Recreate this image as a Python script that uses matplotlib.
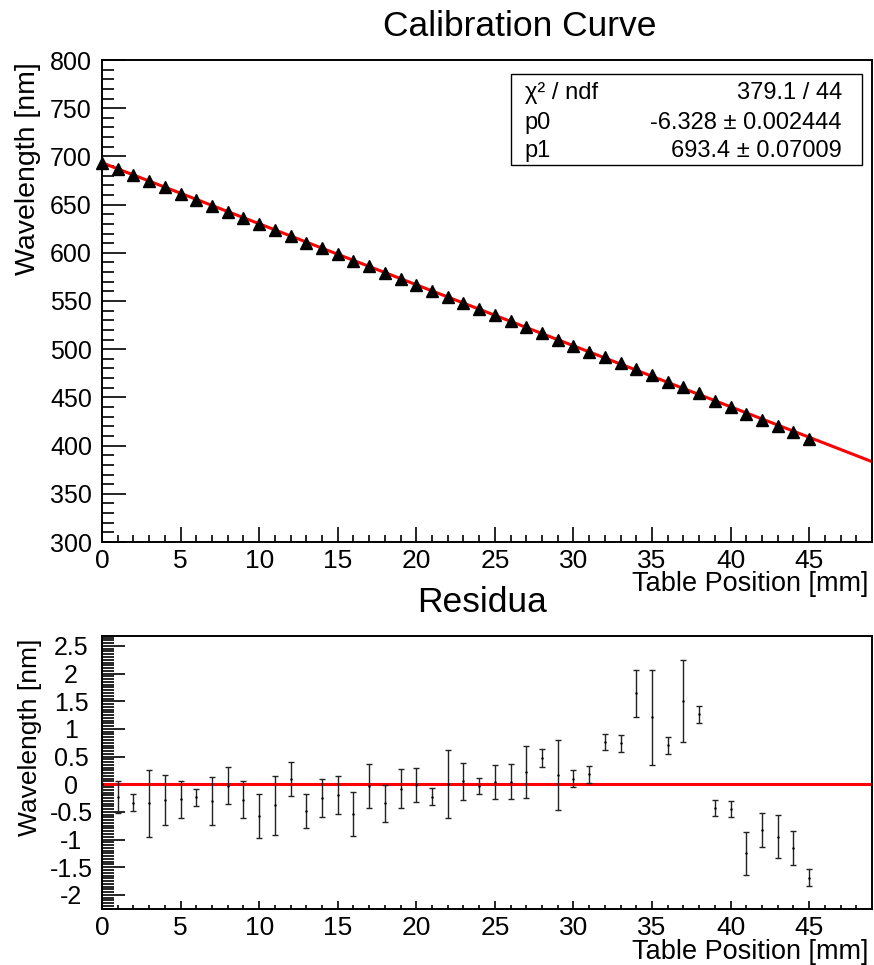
"""
Calibration curve (wavelength vs table position) with linear fit and residuals.
"""
import numpy as np
import matplotlib
matplotlib.use("Agg")
import matplotlib.pyplot as plt
from matplotlib.ticker import MultipleLocator, FuncFormatter
from matplotlib.patches import Rectangle

plt.rcParams["font.family"] = ["Liberation Sans", "DejaVu Sans"]
plt.rcParams["axes.unicode_minus"] = False

# measured points
position = np.arange(0, 46)
wavelength = [693.40, 686.84, 680.41, 674.07, 667.81, 661.49, 655.20, 648.80,
              642.75, 636.17, 629.55, 623.41, 617.56, 610.65, 604.56, 598.29,
              591.62, 585.79, 579.15, 573.09, 566.82, 560.29, 554.19, 547.91,
              541.50, 535.24, 528.92, 522.76, 516.69, 510.06, 503.66, 497.41,
              491.67, 485.32, 479.89, 473.13, 466.30, 460.77, 454.20, 446.18,
              439.83, 432.70, 426.80, 420.35, 413.82, 406.95]
wl_error = [0.16, 0.29, 0.155, 0.605, 0.45, 0.335, 0.155, 0.435, 0.34, 0.34,
            0.40, 0.53, 0.30, 0.305, 0.345, 0.34, 0.40, 0.40, 0.33, 0.345,
            0.305, 0.15, 0.615, 0.335, 0.145, 0.31, 0.31, 0.47, 0.155, 0.635,
            0.15, 0.15, 0.15, 0.155, 0.43, 0.855, 0.155, 0.745, 0.15, 0.15,
            0.15, 0.39, 0.305, 0.39, 0.305, 0.15]

# fit results shown in the stats box
p0 = -6.328
p1 = 693.4
stats_labels = ["\u03c7\u00b2 / ndf", "p0", "p1"]
stats_values = ["379.1 / 44", "-6.328 \u00b1 0.002444", "693.4 \u00b1 0.07009"]

wavelength = np.array(wavelength)
residual = wavelength - (p1 + p0 * position)
xfit = np.array([0, 49])

W, H = 874, 965
fig = plt.figure(figsize=(W / 100, H / 100), dpi=100)
ax1 = fig.add_axes([102 / W, 1 - 542 / H, 770 / W, 482 / H])
ax2 = fig.add_axes([102 / W, 1 - 908.7 / H, 770 / W, 272.7 / H])


def fmt(v, pos):
    return "%g" % v


def style(ax, ymaj, ymin, ylen, xlen):
    for s in ax.spines.values():
        s.set_linewidth(1.4)
    ax.set_xlim(0, 49)
    ax.xaxis.set_major_locator(MultipleLocator(5))
    ax.xaxis.set_minor_locator(MultipleLocator(1))
    ax.yaxis.set_major_locator(MultipleLocator(ymaj))
    ax.yaxis.set_minor_locator(MultipleLocator(ymin))
    ax.yaxis.set_major_formatter(FuncFormatter(fmt))
    ax.tick_params(axis="both", which="both", direction="in", top=False,
                   right=False, width=1.2)
    ax.tick_params(axis="y", which="major", length=ylen[0], labelsize=18, pad=22.3)
    ax.tick_params(axis="y", which="minor", length=ylen[1])
    ax.tick_params(axis="x", which="major", length=xlen[0], labelsize=19, pad=5.0)
    ax.tick_params(axis="x", which="minor", length=xlen[1])
    for lab in ax.get_yticklabels():
        lab.set_horizontalalignment("center")


# top: calibration curve
ax1.plot(xfit, p1 + p0 * xfit, color="red", lw=2.2, zorder=2)
ax1.plot(position, wavelength, "^", color="black", ms=8, clip_on=False, zorder=3)
ax1.set_ylim(300, 800)
style(ax1, 50, 10, (17, 8.6), (10.8, 5))
ax1.set_xticks(np.arange(0, 50, 5))
ax1.set_xlabel("Table Position [mm]", fontsize=19.5, loc="right")
ax1.xaxis.set_label_coords(0.995, -29 / 482)
ax1.set_ylabel("Wavelength [nm]", fontsize=20.5, loc="top")
ax1.yaxis.set_label_coords(-61 / 770, 0.996)

# stats box
ax1.add_patch(Rectangle((0.531, 0.782), 0.456, 0.189, transform=ax1.transAxes,
                        fill=True, facecolor="white", edgecolor="black", lw=1.0,
                        zorder=4))
rows_y = [0.9315, 0.8693, 0.8112]
for lab, val, yy in zip(stats_labels, stats_values, rows_y):
    ax1.text(0.549, yy, lab, transform=ax1.transAxes, fontsize=17,
             ha="left", va="center", zorder=5)
    ax1.text(0.961, yy, val, transform=ax1.transAxes, fontsize=17,
             ha="right", va="center", zorder=5)

# bottom: residuals
ax2.plot(xfit, [0, 0], color="red", lw=2.2, zorder=2)
ax2.errorbar(position, residual, yerr=wl_error, fmt=".", color="black", ms=1.5,
             ecolor="#222222", elinewidth=1.0, capsize=2.0, capthick=1.0, zorder=3)
ax2.set_ylim(-2.25, 2.68)
style(ax2, 0.5, 0.05, (16.5, 8.6), (5.8, 2.9))
ax2.set_xticks(np.arange(0, 50, 5))
ax2.set_xlabel("Table Position [mm]", fontsize=19.5, loc="right")
ax2.xaxis.set_label_coords(0.995, -30 / 272.7)
ax2.set_ylabel("Wavelength [nm]", fontsize=19, loc="top")
ax2.yaxis.set_label_coords(-60 / 770, 0.989)

fig.text(520 / W, 1 - 26 / H, "Calibration Curve", fontsize=25.5, ha="center", va="center")
fig.text(482 / W, 1 - 602 / H, "Residua", fontsize=25.5, ha="center", va="center")

fig.savefig("out.png", dpi=100)
